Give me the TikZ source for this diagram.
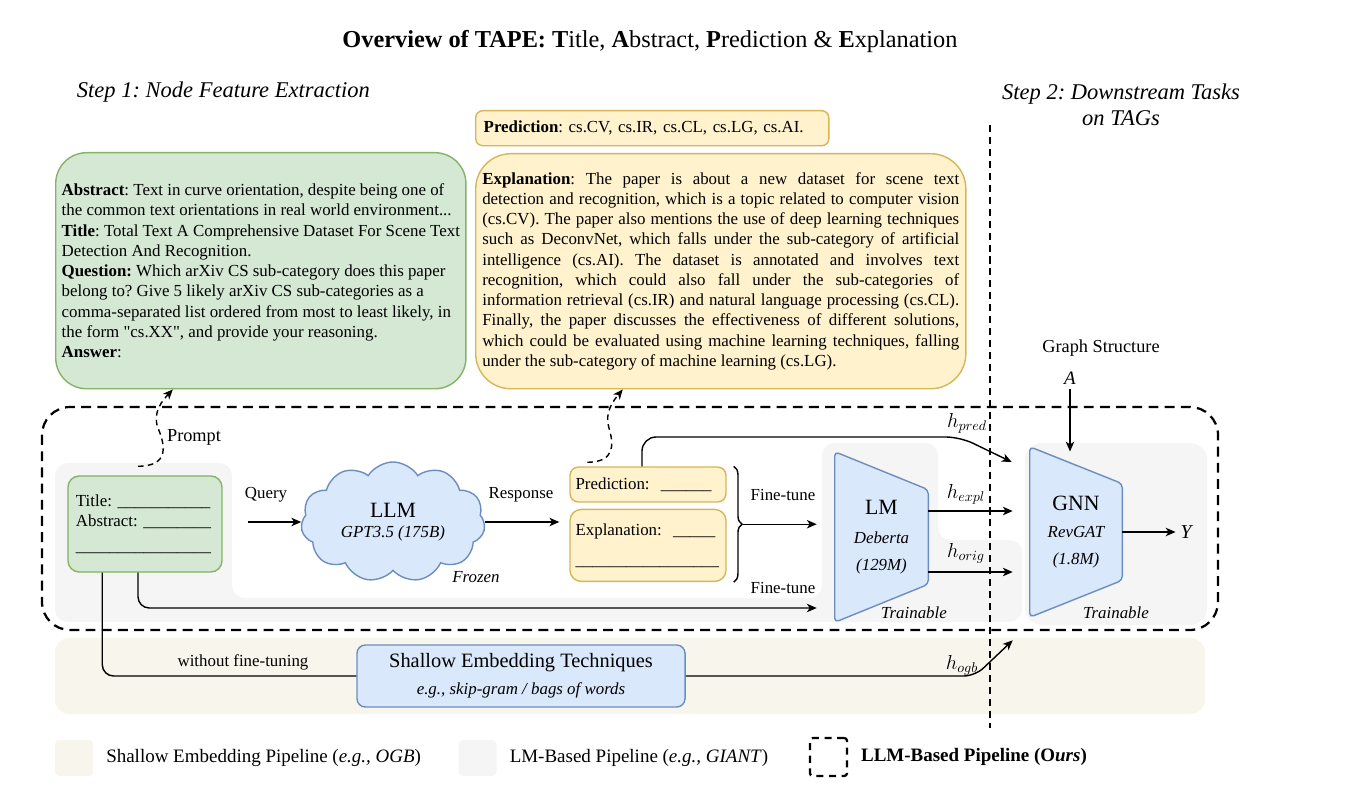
\documentclass[tikz,border=0pt]{standalone}
\usepackage{fontspec}
\setmainfont{Liberation Serif}
\usetikzlibrary{arrows.meta,positioning,fit,backgrounds,calc,shapes.symbols,decorations.pathreplacing}
\definecolor{PromptFill}{HTML}{D5E8D4}
\definecolor{PromptLine}{HTML}{82B366}
\definecolor{RespFill}{HTML}{FFF2CC}
\definecolor{RespLine}{HTML}{D6B656}
\definecolor{ModelFill}{HTML}{DAE8FC}
\definecolor{ModelLine}{HTML}{6C8EBF}
\definecolor{LMGray}{HTML}{F5F5F5}
\definecolor{ShallowBeige}{HTML}{F8F5EC}
\newcommand{\bodyfont}{\fontsize{12}{14.4}\selectfont}
\newcommand{\bigfont}{\fontsize{15.5}{18}\selectfont}

\begin{document}
\frenchspacing
\begin{tikzpicture}[
    x=0.025cm, y=-0.025cm,
    font=\bodyfont,
    promptbox/.style={draw=PromptLine, fill=PromptFill, line width=1pt},
    respbox/.style={draw=RespLine, fill=RespFill, line width=1pt},
    modelbox/.style={draw=ModelLine, fill=ModelFill, line width=1pt},
    trapbody/.style={minimum width=2.3cm, minimum height=4.25cm, align=center, inner sep=0pt},
    arr/.style={-{Stealth[length=7pt,width=6pt,inset=2pt]}, line width=1pt},
    dasharr/.style={arr, dash pattern=on 4pt off 3pt},
    lbl/.style={font=\bodyfont\itshape},
    hlbl/.style={font=\fontsize{14}{16}\selectfont},
    legbox/.style={minimum width=0.95cm, minimum height=0.9cm, rounded corners=3pt},
    legtext/.style={font=\fontsize{13.5}{16}\selectfont}
  ]
  \useasboundingbox (0,0) rectangle (1365,800);

  % pipeline areas
  \begin{scope}[on background layer]
    \fill[ShallowBeige, rounded corners=10pt] (55,638) rectangle (1205,714);
    \fill[LMGray, rounded corners=9pt] (55,463) -- (232,463) -- (232,598) -- (822,598) -- (822,443)
      -- (938,443) -- (938,540) -- (1022,540) -- (1022,622) -- (55,622) -- cycle;
    \fill[LMGray, rounded corners=12pt] (1025,443) rectangle (1207,625);
  \end{scope}

  \node[font=\fontsize{17.3}{20}\selectfont] (title) at (650,42)
    {\textbf{Overview of TAPE: T}itle, \textbf{A}bstract, \textbf{P}rediction \& \textbf{E}xplanation};
  \node[font=\fontsize{16}{18.5}\selectfont\itshape, anchor=west] (step1) at (72,92) {Step 1: Node Feature Extraction};
  \node[font=\fontsize{16}{18.5}\selectfont\itshape, align=center] (step2) at (1121,105) {Step 2: Downstream Tasks\\on TAGs};

  % LLM prompt and response
  \node[promptbox, rounded corners=22pt, anchor=north west, minimum width=10.25cm, minimum height=5.9cm,
        inner xsep=0.15cm, align=left] (prompt) at (55,152)
    {\textbf{Abstract}: Text in curve orientation, despite being one of\\
     the common text orientations in real world environment...\\
     \textbf{Title}: Total Text A Comprehensive Dataset For Scene Text\\
     Detection And Recognition.\\
     \textbf{Question:} Which arXiv CS sub-category does this paper\\
     belong to? Give 5 likely arXiv CS sub-categories as a\\
     comma-separated list ordered from most to least likely, in\\
     the form \textquotedbl cs.XX\textquotedbl, and provide your reasoning.\\
     \textbf{Answer}:};
  \node[respbox, rounded corners=5pt, anchor=north west, minimum width=8.825cm, minimum height=0.875cm,
        text width=8.425cm, inner xsep=0.2cm, align=left] (predout) at (475,110)
    {\textbf{Prediction}: cs.CV, cs.IR, cs.CL, cs.LG, cs.AI.};
  \node[respbox, rounded corners=25pt, anchor=north west, minimum width=12.25cm, minimum height=5.875cm,
        text width=11.92cm, inner xsep=0.165cm, align=justify] (explout) at (475,153)
    {\hyphenpenalty=10000 \textbf{Explanation}: The paper is about a new dataset for scene text\linebreak
     detection and recognition, which is a topic related to computer vision\linebreak
     (cs.CV). The paper also mentions the use of deep learning techniques\linebreak
     such as DeconvNet, which falls under the sub-category of artificial\linebreak
     intelligence (cs.AI). The dataset is annotated and involves text\linebreak
     recognition, which could also fall under the sub-categories of\linebreak
     information retrieval (cs.IR) and natural language processing (cs.CL).\linebreak
     Finally, the paper discusses the effectiveness of different solutions,\linebreak
     which could be evaluated using machine learning techniques, falling\linebreak
     under the sub-category of machine learning (cs.LG).};

  % step 1 pipeline
  \node[promptbox, rounded corners=8pt, minimum width=3.85cm, minimum height=2.4cm, text width=3.45cm,
        inner xsep=0.2cm, align=left] (input) at (145,524)
    {Title: \_\_\_\_\_\_\_\_\_\_\_\\Abstract: \_\_\_\_\_\_\_\_\\[3pt]\_\_\_\_\_\_\_\_\_\_\_\_\_\_\_\_};
  \node[cloud, modelbox, cloud puffs=11, cloud puff arc=115, aspect=1.6, minimum width=4.6cm,
        minimum height=3cm, align=center, inner sep=0pt] (llm) at (393,522)
    {{\bigfont LLM}\\{\itshape GPT3.5 (175B)}};
  \node[lbl] (frozen) at (476,577) {Frozen};
  \node[respbox, rounded corners=6pt, minimum width=3.9cm, minimum height=0.875cm, text width=3.62cm,
        inner xsep=0.14cm, align=left] (predin) at (648,484.5) {Prediction:~ \_\_\_\_\_\_};
  \node[respbox, rounded corners=8pt, minimum width=3.9cm, minimum height=1.8cm, text width=3.62cm,
        inner xsep=0.14cm, align=left, below=0.15cm of predin] (explin)
    {Explanation:~ \_\_\_\_\_\\[7pt]\_\_\_\_\_\_\_\_\_\_\_\_\_\_\_\_\_};
  \node[trapbody, minimum width=2.325cm] (lm) at (881.5,537)
    {{\bigfont LM}\\[6pt]{\itshape Deberta}\\[4.6pt]{\itshape (129M)}};
  \node[lbl] (lmtrain) at (914,613) {Trainable};

  % step 2
  \node[trapbody] (gnn) at (1076,532)
    {{\bigfont GNN}\\[5pt]{\itshape RevGAT}\\[4.5pt]{\itshape (1.8M)}};
  \node[lbl] (gnntrain) at (1116,613) {Trainable};
  \node[font=\fontsize{13}{15}\selectfont] (graph) at (1101,348) {Graph Structure};
  \node[font=\fontsize{13.5}{15}\selectfont\itshape] (adj) at (1070,378) {A};
  \node[font=\fontsize{14}{16}\selectfont\itshape] (yout) at (1186,532) {Y};

  \begin{scope}[on background layer]
    \foreach \body/\dy in {lm/38, gnn/37}{
      \draw[modelbox, rounded corners=3pt] (\body.north west) -- ($(\body.north east)+(0,\dy)$)
        -- ($(\body.south east)+(0,-\dy)$) -- (\body.south west) -- cycle;
    }
  \end{scope}

  % shallow pipeline
  \node[modelbox, rounded corners=6pt, minimum width=8.2cm, minimum height=1.55cm, align=center] (shallow) at (521,676)
    {{\fontsize{14.5}{17}\selectfont Shallow Embedding Techniques}\\[4.6pt]{\itshape e.g., skip-gram / bags of words}};
  \node (nofine) at (243,662) {without fine-tuning};

  % connectors
  \coordinate (promptfoot) at ($(input.north)+(-7,-9)$);
  \coordinate (respfoot) at ($(predin.north west)+(18,-4)$);
  \coordinate (bracetip) at ($(predin.north east)!0.5!(explin.south east)+(16,0)$);
  \draw[dasharr] (promptfoot) .. controls (170,466) and (165,445) .. (158,428)
    .. controls (152,412) and (163,400) .. ([xshift=-2.2cm]prompt.south);
  \node[font=\fontsize{13}{15}\selectfont] (promptlbl) at (194,437) {Prompt};
  \draw[dasharr] (respfoot) .. controls (615,462) and (614,445) .. (609,428)
    .. controls (604,412) and (614,400) .. ([xshift=-2.45cm]explout.south);

  \draw[arr, shorten <=0.62cm] (input.east |- llm.west) -- (llm.west);
  \node (query) at (266,495) {Query};
  \draw[arr, shorten >=0.25cm] (llm.east) -- (llm.east -| predin.west);
  \node (response) at (521,495) {Response};
  \draw[decorate, decoration={brace, amplitude=6pt}, line width=1pt]
    ([xshift=0.175cm]predin.north east) -- ([xshift=0.175cm]explin.south east);
  \draw[arr, shorten >=0.45cm] (bracetip) -- (bracetip -| lm.west);
  \node (ft1) at (783,495) {Fine-tune};
  \draw[arr, rounded corners=8pt, shorten >=0.45cm] ([xshift=-0.175cm]input.south) |- ($(lm.west)+(0,71)$);
  \node (ft2) at (783,588) {Fine-tune};

  \draw[arr, rounded corners=10pt] ([xshift=-0.15cm]predin.north) |- (960,437) -- ($(gnn.west)+(-18,-70)$);
  \node[hlbl] (hpred) at (967,423) {$h_{pred}$};
  \draw[arr, shorten >=0.425cm] ($(lm.east)+(0,-26)$) -- ($(gnn.west)+(0,-21)$);
  \node[hlbl] (hexpl) at (966,494) {$h_{expl}$};
  \draw[arr, shorten >=0.425cm] ($(lm.east)+(0,35)$) -- ($(gnn.west)+(0,40)$);
  \node[hlbl] (horig) at (966,553) {$h_{orig}$};
  \draw[line width=1pt, rounded corners=8pt] ([xshift=0.875cm]input.south west) |- (shallow.west);
  \draw[arr, rounded corners=8pt] (shallow.east) -- (975,676) -- ($(gnn.south west)+(-17,23)$);
  \node[hlbl] (hogb) at (962,665) {$h_{ogb}$};
  \draw[arr, shorten >=-0.12cm] (adj.south) -- (adj.south |- gnn.north);
  \draw[arr] (gnn.east) -- (yout.west);

  % LLM-based pipeline frame and step divider
  \draw[line width=1.6pt, dash pattern=on 7pt off 4.5pt, rounded corners=20pt] (42,407) rectangle (1218,630);
  \draw[line width=1pt, dash pattern=on 5pt off 3.5pt] (990,125) -- (990,728);

  % legend
  \node[legbox, fill=ShallowBeige] (legshallow) at (74,758) {};
  \node[legtext, right=0.2cm of legshallow] (legshallowtxt) {Shallow Embedding Pipeline (\textit{e.g., OGB})};
  \node[legbox, fill=LMGray] (legplm) at (477.5,758) {};
  \node[legtext, right=0.2cm of legplm] (legplmtxt) {LM-Based Pipeline (\textit{e.g., GIANT})};
  \node[legbox, draw, line width=1.6pt, dash pattern=on 5pt off 4pt, minimum width=0.925cm, minimum height=0.95cm,
        rounded corners=2pt] (legllm) at (828.5,757) {};
  \node[legtext, font=\fontsize{13.5}{16}\selectfont\bfseries, right=0.2cm of legllm] (legllmtxt) {LLM-Based Pipeline (O\textit{urs})};
\end{tikzpicture}
\end{document}
